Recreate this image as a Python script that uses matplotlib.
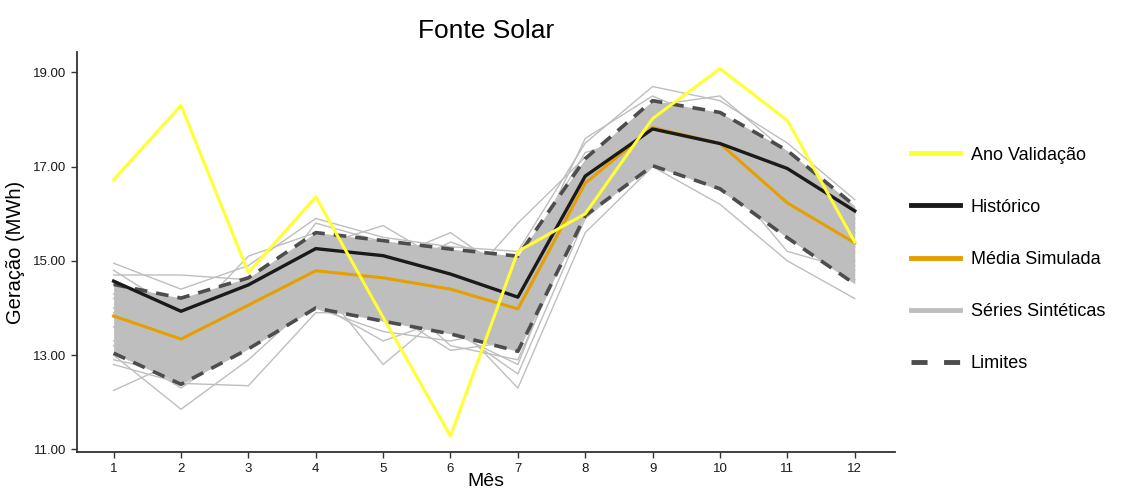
import matplotlib
matplotlib.use("Agg")
from matplotlib import pyplot as plt
from matplotlib.lines import Line2D

plt.rcParams['font.family'] = ['Liberation Sans', 'DejaVu Sans']

meses = [1, 2, 3, 4, 5, 6, 7, 8, 9, 10, 11, 12]

ano_validacao = [16.72, 18.30, 14.75, 16.36, 13.80, 11.28, 15.20, 16.00, 18.02, 19.08, 17.98, 15.40]
historico = [14.57, 13.93, 14.49, 15.26, 15.11, 14.72, 14.23, 16.80, 17.80, 17.49, 16.96, 16.06]
media_simulada = [13.83, 13.34, 14.06, 14.79, 14.64, 14.40, 13.98, 16.65, 17.83, 17.49, 16.23, 15.38]
limite_sup = [14.50, 14.21, 14.64, 15.60, 15.43, 15.25, 15.10, 17.17, 18.40, 18.15, 17.34, 16.17]
limite_inf = [13.04, 12.38, 13.13, 14.00, 13.72, 13.45, 13.08, 15.96, 17.02, 16.53, 15.49, 14.51]

# algumas séries sintéticas lidas (aprox.) do gráfico
series_sinteticas = [
    [14.95, 14.40, 14.90, 15.90, 15.50, 15.30, 15.20, 17.50, 18.70, 18.40, 17.50, 16.30],
    [12.25, 12.90, 13.60, 14.10, 13.30, 13.80, 12.30, 15.60, 17.00, 16.20, 15.00, 14.20],
    [14.70, 14.70, 14.60, 15.30, 15.75, 14.90, 15.00, 16.90, 18.30, 18.50, 17.30, 16.00],
    [13.00, 11.85, 12.90, 14.20, 14.50, 13.20, 12.90, 16.10, 17.40, 16.60, 15.80, 14.60],
    [12.80, 12.40, 12.35, 13.90, 13.90, 13.50, 12.80, 16.40, 17.60, 17.20, 16.50, 15.20],
    [14.20, 13.60, 15.10, 15.60, 15.00, 15.60, 14.60, 17.60, 18.50, 17.90, 16.90, 15.80],
    [13.60, 13.00, 14.30, 14.60, 12.80, 14.00, 13.50, 16.70, 17.90, 17.70, 16.00, 15.40],
    [14.30, 13.80, 13.90, 15.80, 15.40, 14.20, 15.80, 17.20, 18.10, 17.00, 17.00, 15.90],
    [13.30, 12.70, 13.20, 14.40, 14.00, 13.10, 13.30, 16.20, 17.20, 16.90, 15.20, 14.80],
    [14.00, 13.20, 14.00, 14.90, 14.80, 14.50, 14.20, 16.80, 18.00, 17.50, 16.40, 15.60],
    [13.80, 12.90, 13.70, 14.70, 14.30, 14.80, 13.80, 16.50, 17.60, 17.40, 16.20, 15.00],
    [14.50, 14.10, 14.50, 15.50, 15.20, 14.00, 14.60, 17.00, 18.20, 18.00, 17.10, 16.10],
    [13.20, 12.30, 13.30, 14.10, 13.80, 13.60, 12.60, 15.90, 17.10, 16.50, 15.60, 14.60],
    [14.80, 13.90, 14.40, 15.20, 14.70, 15.40, 14.90, 17.30, 17.70, 17.80, 16.70, 15.70],
    [12.90, 12.60, 13.40, 14.00, 13.50, 13.30, 13.60, 16.10, 17.30, 16.80, 15.90, 14.90],
    [13.90, 13.50, 14.10, 15.00, 14.90, 14.60, 14.00, 16.60, 17.80, 17.30, 16.60, 15.30],
]

cor_amarelo = '#FFFF33'
cor_hist = '#1A1A1A'
cor_media = '#E69F00'
cor_cinza = '#BEBEBE'
cor_lim = '#4D4D4D'

fig = plt.figure(figsize=(11.26, 4.92), dpi=100)
ax = fig.add_axes([0.068, 0.081, 0.727, 0.813])

# faixa das séries sintéticas
ax.fill_between(meses, limite_inf, limite_sup, color=cor_cinza, lw=0, zorder=1)
for s in series_sinteticas:
    ax.plot(meses, s, color=cor_cinza, lw=1.0, zorder=2)

ax.plot(meses, limite_sup, color=cor_lim, lw=2.6, ls=(0, (3.5, 2.5)), zorder=3)
ax.plot(meses, limite_inf, color=cor_lim, lw=2.6, ls=(0, (3.5, 2.5)), zorder=3)
ax.plot(meses, media_simulada, color=cor_media, lw=2.2, zorder=4)
ax.plot(meses, historico, color=cor_hist, lw=2.4, zorder=5)
ax.plot(meses, ano_validacao, color=cor_amarelo, lw=2.2, zorder=6)

ax.set_xlim(0.45, 12.6)
ax.set_ylim(10.94, 19.43)
ax.set_xticks(meses)
ax.set_yticks([11, 13, 15, 17, 19])
ax.set_yticklabels(['%.2f' % v for v in [11, 13, 15, 17, 19]])
ax.tick_params(axis='both', colors='#333333', labelcolor='#1A1A1A', labelsize=9.5, length=4, width=1)

for lado in ['top', 'right']:
    ax.spines[lado].set_visible(False)
for lado in ['left', 'bottom']:
    ax.spines[lado].set_color('#333333')
    ax.spines[lado].set_linewidth(1.3)

ax.set_title('Fonte Solar', fontsize=19, pad=10)
ax.set_xlabel('Mês', fontsize=14, labelpad=-1)
ax.set_ylabel('Geração (MWh)', fontsize=14.5, labelpad=6)

handles = [
    Line2D([], [], color=cor_amarelo, lw=3.5),
    Line2D([], [], color=cor_hist, lw=3.5),
    Line2D([], [], color=cor_media, lw=3.5),
    Line2D([], [], color=cor_cinza, lw=3.5),
    Line2D([], [], color=cor_lim, lw=3.5, ls=(0, (3.3, 3.4))),
]
labels = ['Ano Validação', 'Histórico', 'Média Simulada', 'Séries Sintéticas', 'Limites']
fig.legend(handles, labels, loc='center left', bbox_to_anchor=(0.809, 0.4726),
           frameon=False, fontsize=13, handlelength=2.7, handletextpad=0.6,
           labelspacing=1.95, borderpad=0, borderaxespad=0)

fig.savefig('out.png', dpi=100)
